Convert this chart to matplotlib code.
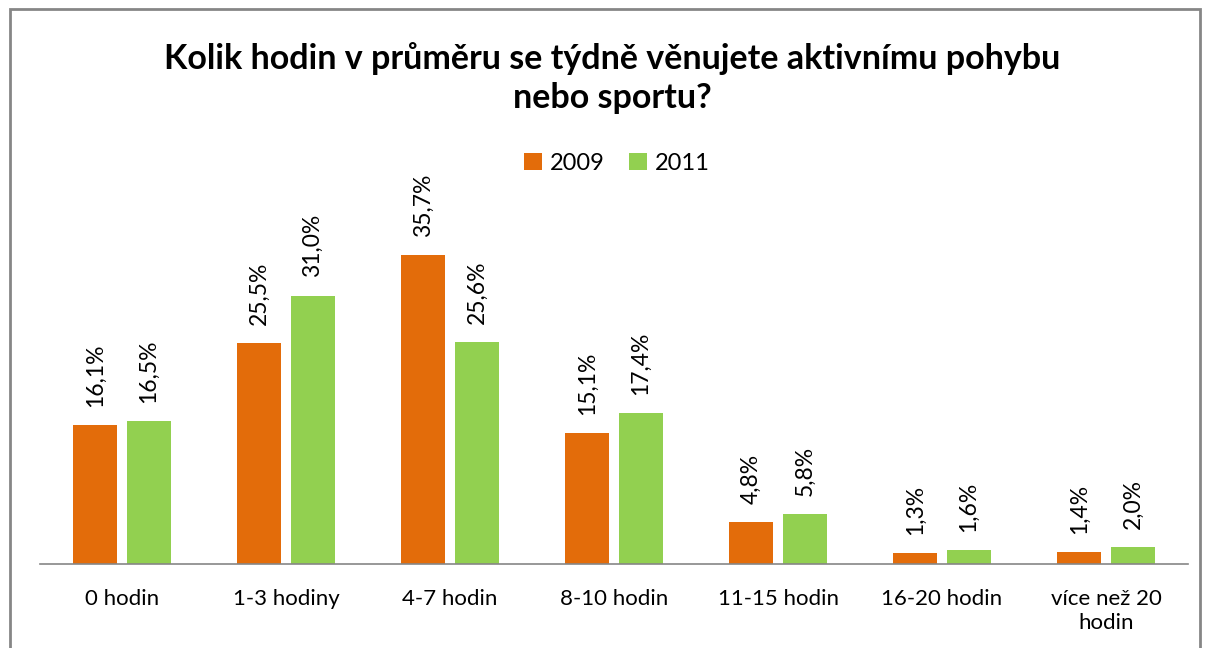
import matplotlib
matplotlib.use("Agg")
import matplotlib.pyplot as plt
from matplotlib.patches import Rectangle
import numpy as np

categories = ["0 hodin", "1-3 hodiny", "4-7 hodin", "8-10 hodin", "11-15 hodin", "16-20 hodin", "více než 20\nhodin"]
series_names = ["2009", "2011"]
values_2009 = [16.1, 25.5, 35.7, 15.1, 4.8, 1.3, 1.4]
values_2011 = [16.5, 31.0, 25.6, 17.4, 5.8, 1.6, 2.0]
colors = ["#E36C0A", "#92D050"]

plt.rcParams['font.family'] = ['Lato', 'DejaVu Sans']

W, H = 1206, 648
fig = plt.figure(figsize=(W/100, H/100), dpi=100)
ax = fig.add_axes([40/W, 1-564/H, (1188-40)/W, (564-200)/H])

x = np.arange(len(categories))
bw = 0.268
off = 0.163
b1 = ax.bar(x - off, values_2009, bw, color=colors[0], label=series_names[0])
b2 = ax.bar(x + off, values_2011, bw, color=colors[1], label=series_names[1])

def fmt(v):
    return f"{v:.1f}%".replace(".", ",")

for bars, vals in ((b1, values_2009), (b2, values_2011)):
    for r, v in zip(bars, vals):
        ax.annotate(fmt(v), (r.get_x() + r.get_width()/2, r.get_height()),
                    xytext=(0, 13), textcoords="offset points",
                    rotation=90, ha="center", va="bottom", fontsize=16.5, color="#000000")

ax.set_xlim(-0.5, len(categories) - 0.5)
ax.set_ylim(0, (564-200)/8.66)
ax.set_xticks(x)
ax.set_xticklabels(categories, fontsize=16, linespacing=1.25)
ax.tick_params(axis='x', length=0, pad=18)
ax.set_yticks([])
for s in ("left", "right", "top"):
    ax.spines[s].set_visible(False)
ax.spines["bottom"].set_color("#868686")
ax.spines["bottom"].set_linewidth(1.2)

fig.text(0.508, 1-78/H, "Kolik hodin v průměru se týdně věnujete aktivnímu pohybu\nnebo sportu?",
         ha="center", va="center", fontsize=24.5, fontweight="bold", linespacing=1.25)

fig.legend(handles=[b1, b2], labels=series_names, loc="center", bbox_to_anchor=(617/W, 1-163/H),
           ncol=2, frameon=False, fontsize=17, handlelength=0.75, handleheight=0.75,
           handletextpad=0.35, columnspacing=1.0)

fig.patches.append(Rectangle((10/W, -0.1), (1200-10)/W, 1.1 - 9/H, transform=fig.transFigure,
                             fill=False, edgecolor="#868686", linewidth=2))

fig.savefig("out.png", dpi=100, facecolor="white")
